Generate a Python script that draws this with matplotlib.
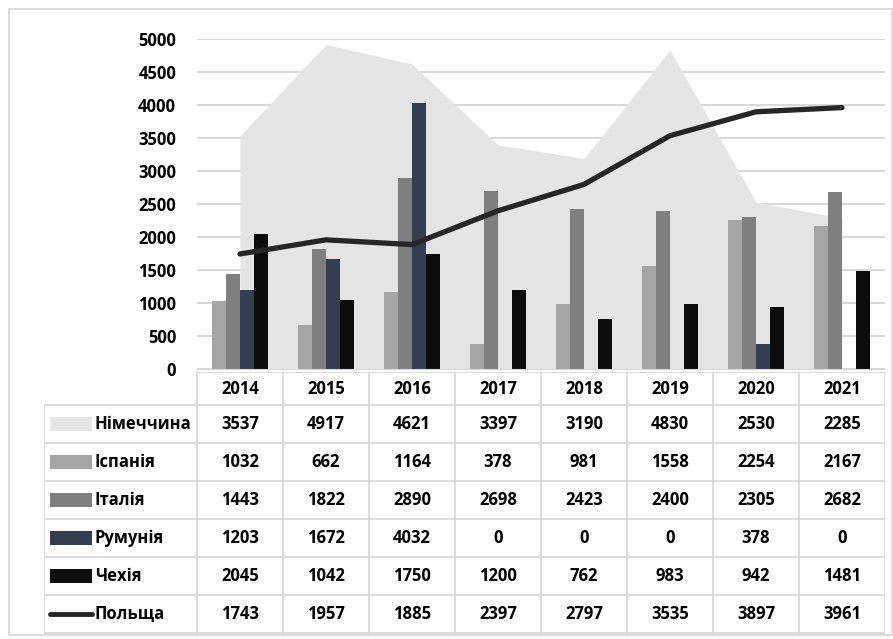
import numpy as np
import matplotlib
matplotlib.use("Agg")
import matplotlib.pyplot as plt
from matplotlib.patches import Rectangle

plt.rcParams['font.family'] = ['Open Sans', 'DejaVu Sans']
plt.rcParams['font.weight'] = 'bold'

years = ['2014', '2015', '2016', '2017', '2018', '2019', '2020', '2021']
germany = [3537, 4917, 4621, 3397, 3190, 4830, 2530, 2285]
spain = [1032, 662, 1164, 378, 981, 1558, 2254, 2167]
italy = [1443, 1822, 2890, 2698, 2423, 2400, 2305, 2682]
romania = [1203, 1672, 4032, 0, 0, 0, 378, 0]
czech = [2045, 1042, 1750, 1200, 762, 983, 942, 1481]
poland = [1743, 1957, 1885, 2397, 2797, 3535, 3897, 3961]

names = ['Німеччина', 'Іспанія', 'Італія', 'Румунія', 'Чехія', 'Польща']
c_de = '#e5e5e5'
c_es = '#a5a5a5'
c_it = '#7f7f7f'
c_ro = '#333f50'
c_cz = '#0d0d0d'
c_pl = '#262626'
grid_c = '#d6d6d6'
fs = 12

W, H = 893, 639
fig = plt.figure(figsize=(W / 100, H / 100), dpi=100)

def px_axes(x0, y0, x1, y1):
    return fig.add_axes([x0 / W, 1 - y1 / H, (x1 - x0) / W, (y1 - y0) / H])

# рамка навколо всього
fig.add_artist(Rectangle((9 / W, 1 - 635 / H), (892 - 9) / W, (635 - 9) / H,
                         transform=fig.transFigure, fill=False, ec=grid_c, lw=1.2))

# ---- діаграма ----
ax = px_axes(197, 39, 885, 369)
x = np.arange(len(years))
ax.fill_between(x, germany, color=c_de, lw=0, zorder=1)
bw = 0.163
series = [(spain, c_es), (italy, c_it), (romania, c_ro), (czech, c_cz)]
for i, (vals, col) in enumerate(series):
    ax.bar(x + (i - 1.5) * bw, vals, width=bw, color=col, zorder=2)
ax.plot(x, poland, color=c_pl, lw=3.8, solid_capstyle='round',
        solid_joinstyle='round', zorder=3)

ax.set_xlim(-0.5, 7.5)
ax.set_ylim(0, 5000)
ax.set_yticks(np.arange(0, 5001, 500))
ax.yaxis.grid(True, color=grid_c, lw=1.3, zorder=0)
ax.set_axisbelow(True)
ax.set_xticks([])
for s in ['top', 'right', 'left']:
    ax.spines[s].set_visible(False)
ax.spines['bottom'].set_color(grid_c)
ax.tick_params(axis='y', length=0, pad=15, labelsize=fs)
for t in ax.get_yticklabels():
    t.set_fontweight('bold')

# ---- таблиця даних ----
lab_w = 153 / 86
tax = px_axes(44, 372, 885, 634)
tax.set_xlim(-0.5 - lab_w, 7.5)
tax.set_ylim(262, 0)
tax.axis('off')

head_h = 33
row_h = 38
rows = [germany, spain, italy, romania, czech, poland]
lc = dict(color=grid_c, lw=1.2)

tax.plot([-0.5, 7.5], [0, 0], **lc)
for j in range(len(years) + 1):
    tax.plot([j - 0.5, j - 0.5], [0, 262], **lc)
for j, yr in enumerate(years):
    tax.text(j, head_h / 2, yr, ha='center', va='center', fontsize=fs, fontweight='bold')

for r in range(len(rows) + 1):
    yy = head_h + r * row_h
    tax.plot([-0.5 - lab_w, 7.5], [yy, yy], **lc)
tax.plot([-0.5 - lab_w, -0.5 - lab_w], [head_h, 262], **lc)

key_x0 = -0.5 - lab_w + 6 / 86
key_w = 42 / 86
for r, (name, vals) in enumerate(zip(names, rows)):
    yc = head_h + r * row_h + row_h / 2
    if r < 5:
        col = [c_de, c_es, c_it, c_ro, c_cz][r]
        tax.add_patch(Rectangle((key_x0, yc - 7), key_w, 14, color=col, lw=0))
    else:
        tax.plot([key_x0, key_x0 + key_w], [yc, yc], color=c_pl, lw=3.5,
                 solid_capstyle='round')
    tax.text(key_x0 + key_w + 3 / 86, yc, name, ha='left', va='center',
             fontsize=fs, fontweight='bold')
    for j, v in enumerate(vals):
        tax.text(j, yc, str(v), ha='center', va='center', fontsize=fs, fontweight='bold')

fig.savefig('out.png', dpi=100)
